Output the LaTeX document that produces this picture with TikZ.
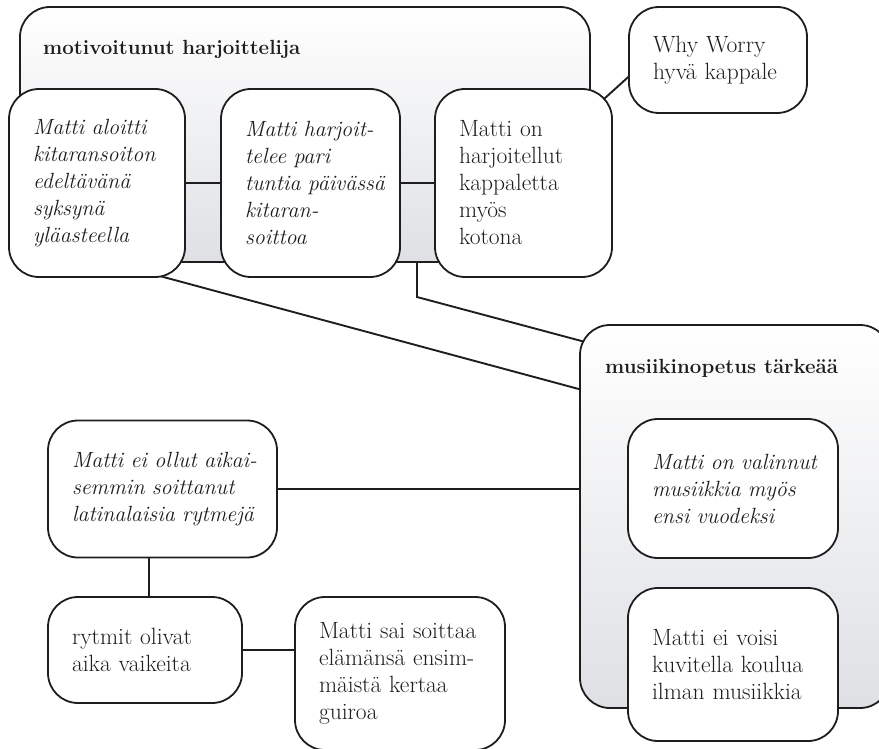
\documentclass[tikz,border=0pt]{standalone}
\usepackage{fontspec}
\usetikzlibrary{calc}

\pgfdeclarelayer{back}
\pgfdeclarelayer{mid}
\pgfsetlayers{back,mid,main}

\definecolor{ink}{RGB}{30,30,30}
\definecolor{panelbot}{RGB}{222,224,228}

\tikzset{
  panel/.style={draw=ink, line width=1.8pt, rounded corners=30pt,
    top color=white, bottom color=panelbot, inner sep=0pt},
  card/.style={draw=ink, line width=1.8pt, rounded corners=30pt, fill=white,
    inner xsep=24pt, inner ysep=0pt, align=left, text=ink,
    execute at begin node={\hyphenpenalty=10000 \exhyphenpenalty=10000 \hbadness=10000 \hfuzz=200pt}},
  link/.style={draw=ink, line width=1.9pt},
  heading/.style={font=\fontsize{20.5}{27}\selectfont\bfseries, anchor=base west,
    inner sep=0pt, text=ink},
  up/.style={font=\fontsize{23.5}{27}\selectfont},
  it/.style={font=\fontsize{22}{27}\selectfont\itshape},
}

\begin{document}
\begin{tikzpicture}[x=1pt, y=-1pt]
\useasboundingbox (0,0) rectangle (879,749);

% grouping panel at the top
\begin{pgfonlayer}{back}
  \node[panel, minimum width=570pt, minimum height=255pt] (c1) at (305,134.5) {};
\end{pgfonlayer}
\node[heading] (t1) at (43,55) {motivoitunut harjoittelija};

% cards of the top row
\node[card, it, minimum width=176pt, minimum height=188pt, text width=128pt] (b1) at (97,183)
  {Matti~aloitti\\kitaransoiton\\edeltävänä\\syksynä\\yläasteella};
\node[card, it, minimum width=179pt, minimum height=188pt, text width=131pt] (b2) at (310.5,183)
  {Matti~harjoit-\\telee~pari\\tuntia~päivässä\\kitaran-\\soittoa};
\node[card, up, minimum width=177pt, minimum height=188pt, text width=129pt] (b3) at (523.5,183)
  {Matti~on\\harjoitellut\\kappaletta\\myös\\kotona};
\node[card, up, minimum width=178pt, minimum height=106pt, text width=130pt] (ww) at (718,60)
  {Why~Worry\\hyvä~kappale};

% grouping panel on the right
\node[panel, minimum width=310pt, minimum height=383pt] (m) at (735,516.5) {};
\node[heading] (t2) at (605,373) {musiikinopetus tärkeää};
\node[card, it, minimum width=210pt, minimum height=139pt, text width=162pt] (v1) at (733,488.5)
  {Matti~on~valinnut\\musiikkia~myös\\ensi~vuodeksi};
\node[card, up, minimum width=210pt, minimum height=153pt, text width=162pt] (v2) at (733,664.5)
  {Matti~ei~voisi\\kuvitella~koulua\\ilman~musiikkia};

% cards on the lower left
\node[card, it, minimum width=229pt, minimum height=137pt, text width=181pt] (e1) at (162.5,489)
  {Matti~ei~ollut~aikai-\\semmin~soittanut\\latinalaisia~rytmejä};
\node[card, up, minimum width=194pt, minimum height=106pt, text width=146pt] (r) at (145,650)
  {rytmit~olivat\\aika~vaikeita};
\node[card, up, minimum width=210pt, minimum height=153pt, text width=162pt] (s) at (400,673.5)
  {Matti~sai~soittaa\\elämänsä~ensim-\\mäistä~kertaa\\guiroa};

% connectors
\coordinate (k1) at (417,297);
\begin{pgfonlayer}{mid}
  \draw[link] (b1.east) -- (b2.west);
  \draw[link] (b2.east) -- (b3.west);
  \draw[link] ($(b3.north east)+(-30,30)$) -- ($(ww.west)+(5,12.6)$);
  \draw[link] (c1.south -| k1) -- (k1) -- ($(m.north west)+(20,21.6)$);
  \draw[link] ($(b1.south)+(0,-18.8)$) -- ($(m.north west)+(10,67.7)$);
  \draw[link] (e1.east) -- (e1.east -| m.west);
  \draw[link] ([xshift=4pt]r.north) -- ([xshift=4pt]r.north |- e1.south);
  \draw[link] (r.east) -- (r.east -| s.west);
  \draw[link] (v1.south) -- (v2.north);
\end{pgfonlayer}
\end{tikzpicture}
\end{document}
